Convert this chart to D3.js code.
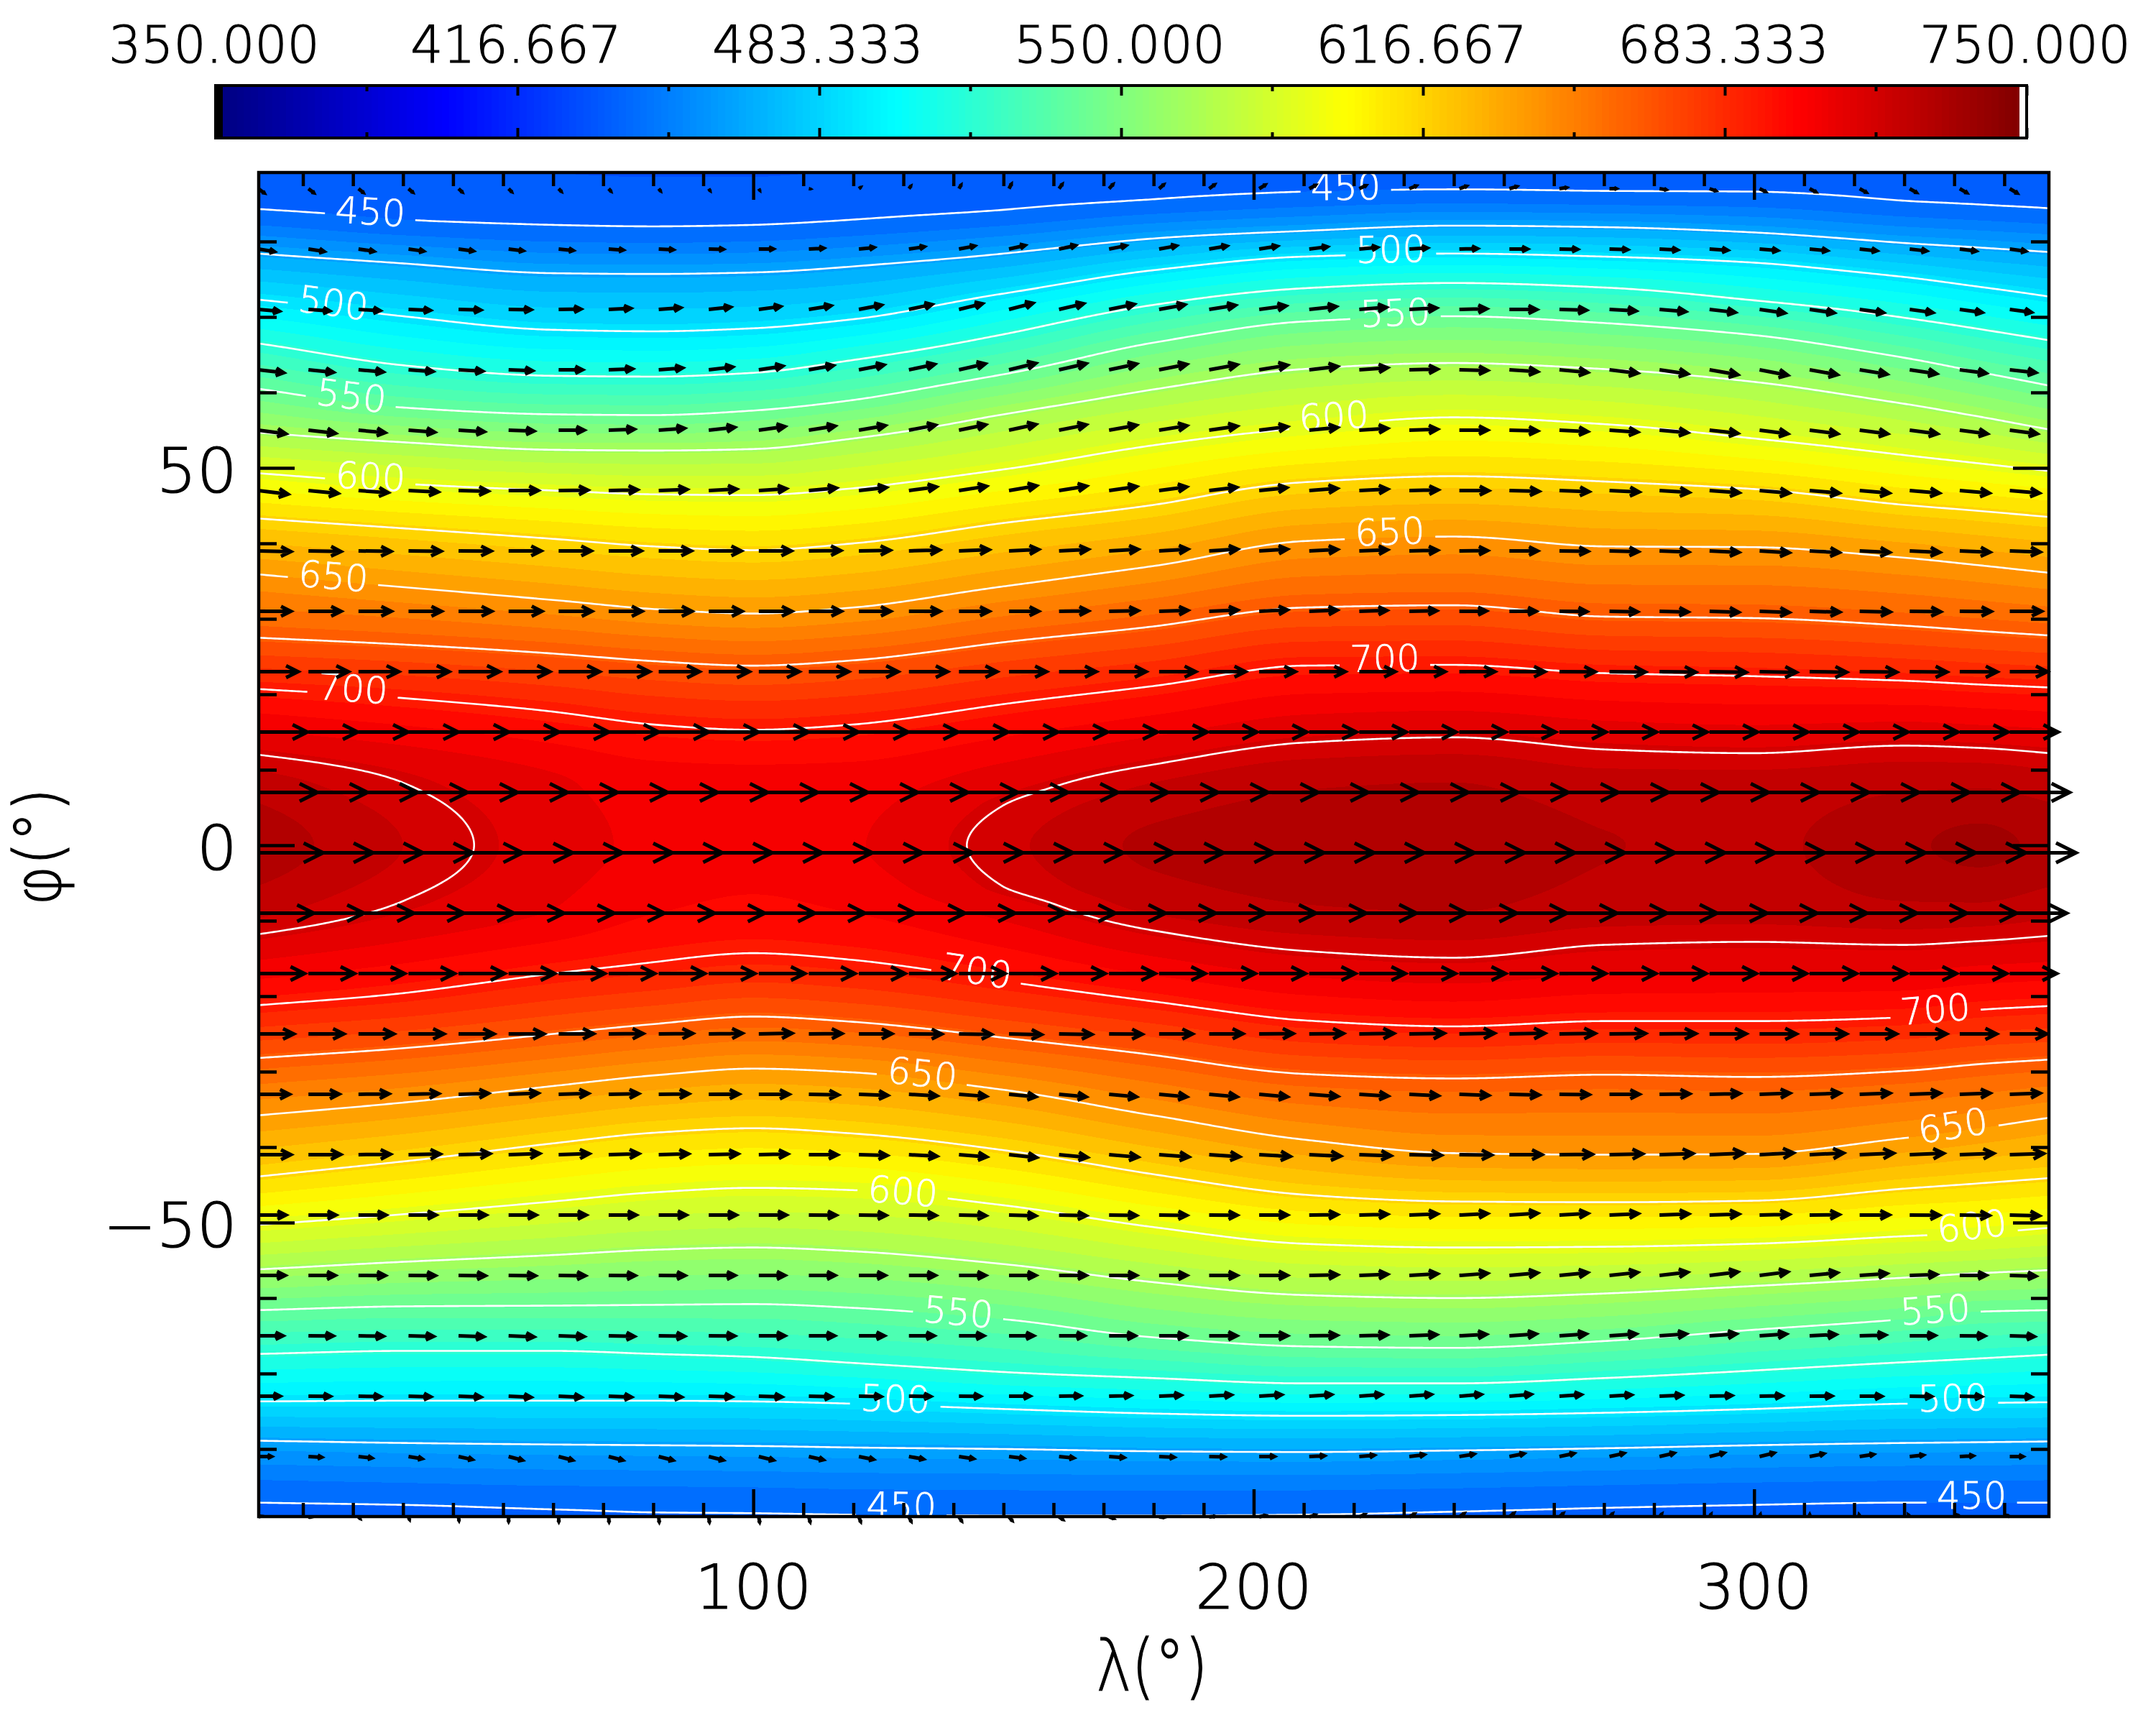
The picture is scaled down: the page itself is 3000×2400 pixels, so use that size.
<!DOCTYPE html>
<html><head><meta charset="utf-8">
<script src="https://cdn.jsdelivr.net/npm/d3@7"></script>
<style>html,body{margin:0;padding:0;background:#fff}svg{display:block}
text{font-family:"DejaVu Sans";font-weight:200;fill:#000;stroke:#000;stroke-width:1.2px}</style></head>
<body><div id="chart"></div>
<script>
// ---------- data ----------
const colorbarMin = 350, colorbarMax = 750, fillLevelCount = 60;
const colorbarLabels = ["350.000","416.667","483.333","550.000","616.667","683.333","750.000"];
const xMajorTicks = [100,200,300];
const yMajorTicks = [50,0,-50];
const contourLevels = [450,475,500,525,550,575,600,625,650,675,700,725];

// longitudes at which isotherm latitudes were read
const sampleLons = [1,30,60,80,100,120,150,180,210,240,270,300,330,345,359];
// temperature at the pole edges, at lat +-8 and on the equator
const tempNorthEdge = [445,444,442.5,442,442,443,444.5,446,447,447.5,447.5,447,446,445.5,445];
const tempSouthEdge = [447,447,448,449,449,449,449,449,449,448.5,448,447.5,447,447,447];
const temp8N = [733.5,null,718,713.5,712.5,713.5,721.5,730.5,736,737,733,733,735.5,736,733.5];
const temp8S = [733,null,717,711,709,711,720.5,732,736.5,737.5,734,733.5,736,736,733];
const tempEquator = [741,730,720,715,712.5,716,728,738,741,742,737,735.5,742,745,741.5];
// latitude of each isotherm, northern hemisphere
const iso450N = [84.3,82.9,82.2,82.0,82.2,82.9,84.2,85.6,86.6,86.9,86.7,86.6,85.4,84.9,84.4];
const iso475N = [78.4,77.1,75.8,75.7,75.9,76.7,78.4,80.4,81.4,82.1,81.9,81.2,79.8,79.2,78.6];
const iso500N = [72.3,70.1,68.3,68.1,68.5,69.7,73.1,76.2,78.0,78.4,78.0,77.2,75.3,74.0,72.7];
const iso525N = [66.5,63.6,62.2,62.1,62.6,64.3,67.7,71.6,73.8,74.5,73.9,72.2,69.9,68.4,66.9];
const iso550N = [60.5,58.0,57.1,57.0,57.6,59.0,62.4,66.6,69.4,70.1,69.2,67.6,64.6,62.7,60.9];
const iso575N = [54.7,53.4,52.4,52.3,52.5,53.9,57.1,60.4,63.1,63.9,63.1,61.4,58.5,56.8,55.1];
const iso600N = [49.3,47.9,47.0,46.5,46.4,47.3,49.8,53.0,55.3,56.7,55.8,53.9,51.7,50.6,49.6];
const iso625N = [43.3,42.0,40.6,39.6,39.1,40.0,42.7,45.1,48.1,48.9,48.2,47.2,45.1,44.3,43.5];
const iso650N = [35.9,34.2,32.5,31.3,30.7,31.5,34.3,37.0,40.3,40.9,39.6,39.5,38.1,37.1,36.1];
const iso675N = [27.5,26.6,25.4,24.4,23.8,24.5,26.9,29.0,31.5,31.8,30.3,30.1,29.1,28.4,27.8];
const iso700N = [20.7,19.5,17.7,16.0,15.3,16.0,18.7,21.1,23.8,23.9,22.8,22.4,21.8,21.3,20.9];
const iso725N = [12.0,8.3,null,null,null,null,5.3,10.7,13.6,14.3,12.7,12.2,13.2,12.9,12.2];
// latitude of each isotherm, southern hemisphere
const iso450S = [-87.1,-87.4,-88.0,-88.4,-88.5,-88.7,-88.8,-88.8,-88.7,-88.3,-87.8,-87.4,-87.1,-87.1,-87.1];
const iso475S = [-78.9,-79.2,-79.4,-79.5,-79.6,-79.8,-80.0,-80.3,-80.4,-80.2,-79.9,-79.5,-79.2,-79.1,-79.0];
const iso500S = [-73.7,-73.6,-73.6,-73.6,-73.7,-74.0,-74.7,-75.3,-75.6,-75.5,-75.2,-74.7,-74.0,-73.9,-73.8];
const iso525S = [-67.4,-67.0,-67.0,-67.4,-67.8,-68.6,-69.8,-70.6,-71.3,-71.3,-70.6,-69.6,-68.5,-68.0,-67.5];
const iso550S = [-61.6,-61.1,-61.0,-60.9,-60.8,-61.3,-62.8,-65.2,-66.4,-66.6,-65.7,-64.2,-62.8,-61.8,-61.6];
const iso575S = [-56.2,-55.2,-54.3,-53.6,-53.3,-53.8,-55.5,-57.9,-59.6,-60.0,-59.4,-58.4,-57.3,-56.7,-56.3];
const iso600S = [-50.3,-48.9,-47.2,-46.0,-45.4,-45.7,-47.7,-50.6,-52.8,-53.3,-53.2,-52.8,-51.8,-51.4,-50.7];
const iso625S = [-43.9,-41.9,-39.5,-38.1,-37.5,-38.2,-40.4,-43.6,-46.3,-47.2,-47.3,-47.1,-45.5,-44.8,-44.1];
const iso650S = [-35.8,-34.1,-31.9,-30.5,-29.6,-30.1,-32.4,-35.8,-39.0,-40.8,-41.0,-40.9,-38.8,-37.5,-36.1];
const iso675S = [-28.2,-26.9,-25.0,-23.7,-22.7,-23.4,-25.5,-27.8,-30.3,-30.9,-30.4,-30.7,-29.9,-29.0,-28.4];
const iso700S = [-21.2,-19.6,-17.0,-15.5,-14.3,-15.2,-18.0,-20.7,-23.2,-24.0,-23.3,-23.3,-22.8,-21.8,-21.3];
const iso725S = [-11.8,-7.4,null,null,null,null,-5.5,-11.3,-14.0,-14.9,-13.2,-12.8,-13.2,-12.7,-12.0];

// contour annotations: level, lon, lat, rotation along the line
const contourLabels = [
 [450,23.5,84.0,3.6],[450,218.4,87.3,-1],[500,16.1,71.9,7.6],[500,227.4,79.0,-1],
 [550,19.7,59.6,7],[550,228.3,70.6,-2.3],[600,23.5,48.9,3],[600,216,56.9,-3.5],
 [650,16.1,35.7,5],[650,227.2,41.6,-2.3],[700,20,20.8,4],[700,226.2,24.8,-1],
 [700,144.7,-16.6,8.6],[650,133.8,-30.2,6.3],[600,129.9,-45.8,4.8],[550,141,-61.8,5.3],
 [500,128.4,-73.3,1.8],[450,129.6,-87.5,1],[700,336.2,-21.7,-4.6],[650,339.7,-37.1,-8.6],
 [600,343.5,-50.4,-6],[550,336.2,-61.5,-3.6],[500,339.7,-73.2,-1.3],[450,343.5,-86.2,0]
];

// wind vectors: arrow rows (lat), arrow columns (lon), and values read at windKnots
const arrowLats = [87,79,71,63,55,47,39,31,23,15,7,-1,-9,-17,-25,-33,-41,-49,-57,-65,-73,-81,-89];
const arrowLons = d3.range(0,36).map(k => 1.1 + 10*k);
const windKnots = [1,50,100,150,200,250,300,351];
const windU = [
 [8,4,1,3,8,10,8,10],[22,20,20,22,25,25,25,22],[29,31,30,33,37,38,35,30],[35,33,33,37,39,39,39,36],
 [38,35,36,37,39,39,39,38],[41,41,38,38,38,41,41,41],[45,45,45,41,39,39,41,42],[45,46,46,41,39,37,41,44],
 [55,57,56,52,50,49,51,52],[68,70,69,68,66,64,67,67],[82,82,82,82,82,82,82,83],[90,89,88,89,90,91,91,92],
 [77,77,78,78,79,80,80,79],[64,64,64,64,64,64,65,65],[49,49,46,45,47,49,51,51],[43,41,42,37,39,41,42,42],
 [45,43,40,38,43,45,47,47],[38,38,38,37,39,39,41,41],[37,37,36,37,39,39,39,36],[34,35,36,34,39,37,37,34],
 [30,31,32,29,31,30,31,30],[18,19,20,20,21,20,20,18],[3,0,1,4,8,6,1,-3]
];
// northward component (positive = up)
const windV = [
 [-6,-4,-2,6,5,3,-4,-6],[-3.5,-2.5,0,5,4,0,-2,-3],[-2.5,-.5,4,8.7,5,0,-5,-4],[-4,-1.5,5,9,6.6,-2.5,-7.6,-4],
 [-5,-1.5,5,8,5,-1,-5,-5],[-5,0,2.5,6.6,4,-1,-3.5,-3.5],[-1,0,0,2,2.5,0,-2.5,-1.5],[0,0,0,0,2,0,-1.5,0],
 [0,0,0,0,0,0,-1,0],[0,0,0,0,0,0,0,0],[0,0,0,0,0,0,0,0],[0,0,0,0,0,0,0,0],
 [0,0,0,0,0,0,0,0],[0,0,0,0,0,0,0,0],[0,0,1,-1,.5,1,0,0],[0,1.5,0,-3.5,-3.5,-1,1.5,1.5],
 [0,1.5,1,-4,-2.5,0,2.5,1.5],[0,0,0,-1,0,2.5,1,-1],[0,-.5,0,0,0,3.5,5,-1],[0,-1.5,0,0,0,2.5,2.5,-1],
 [0,-1.5,-1,0,2,2.5,.5,-1],[0,-5,-5,-2.5,0,4,5,0],[1,-6,-7,-5,2,5,3,2]
];

// ---------- layout & scales ----------
const W = 3000, H = 2400;
const plot = {left:360, right:2851, top:240, bottom:2110};
const bar = {left:300, right:2820, top:119, bottom:192};
const xScale = d3.scaleLinear().domain([0,360]).range([351.9,2858.5]);
const yScale = d3.scaleLinear().domain([90,-90]).range([231,2121]);
const barScale = d3.scaleLinear().domain([colorbarMin,colorbarMax]).range([bar.left,bar.right]);
const windScale = d3.scaleLinear().domain([0,100]).range([0,100]);

function jet(f){
  const c = v => Math.round(255*Math.max(0,Math.min(1,v)));
  return d3.rgb(c(Math.min(4*f-1.5,-4*f+4.5)), c(Math.min(4*f-.5,-4*f+3.5)), c(Math.min(4*f+.5,-4*f+2.5))).formatHex();
}
const levelStep = (colorbarMax-colorbarMin)/fillLevelCount;
const fillLevels = d3.range(0,fillLevelCount).map(k => colorbarMin + k*levelStep);
const fillColor = L => jet((L - levelStep - colorbarMin)/(colorbarMax-colorbarMin));

// monotone cubic through read values, used only to draw a smooth field
function pchip(xs, ys){
  const n = xs.length, h=[], d=[], m=new Array(n);
  for(let i=0;i<n-1;i++){h[i]=xs[i+1]-xs[i]; d[i]=(ys[i+1]-ys[i])/h[i];}
  m[0]=d[0]; m[n-1]=d[n-2];
  for(let i=1;i<n-1;i++){
    if(d[i-1]*d[i]<=0) m[i]=0;
    else { const w1=2*h[i]+h[i-1], w2=h[i]+2*h[i-1]; m[i]=(w1+w2)/(w1/d[i-1]+w2/d[i]); }
  }
  return x=>{
    if(x<=xs[0]) return ys[0];
    if(x>=xs[n-1]) return ys[n-1];
    let i=d3.bisectRight(xs,x)-1; if(i>=n-1) i=n-2;
    const t=(x-xs[i])/h[i], t2=t*t, t3=t2*t;
    return (2*t3-3*t2+1)*ys[i]+(t3-2*t2+t)*h[i]*m[i]+(-2*t3+3*t2)*ys[i+1]+(t3-t2)*h[i]*m[i+1];
  };
}
const isoRows = [
 [450,iso450N],[475,iso475N],[500,iso500N],[525,iso525N],[550,iso550N],[575,iso575N],[600,iso600N],[625,iso625N],[650,iso650N],[675,iso675N],[700,iso700N],[725,iso725N],
 [450,iso450S],[475,iso475S],[500,iso500S],[525,iso525S],[550,iso550S],[575,iso575S],[600,iso600S],[625,iso625S],[650,iso650S],[675,iso675S],[700,iso700S],[725,iso725S]
];
const columnProfiles = sampleLons.map((lon,c)=>{
  let nodes = [[90,tempNorthEdge[c]],[-90,tempSouthEdge[c]],[0,tempEquator[c]]];
  if(temp8N[c]!=null) nodes.push([8,temp8N[c]]);
  if(temp8S[c]!=null) nodes.push([-8,temp8S[c]]);
  isoRows.forEach(([L,row])=>{ if(row[c]!=null) nodes.push([row[c],L]); });
  nodes.sort((a,b)=>a[0]-b[0]);
  return pchip(nodes.map(n=>n[0]),nodes.map(n=>n[1]));
});

// temperature grid in screen cells, padded past the frame so that contour rings close outside the clip
const step = 3, pad = 2;
const nx = Math.ceil((plot.right-plot.left)/step)+2*pad, ny = Math.ceil((plot.bottom-plot.top)/step)+2*pad;
const x0 = plot.left-pad*step, y0 = plot.top-pad*step;
const grid = new Float64Array(nx*ny);
for(let j=0;j<ny;j++){
  const lat = yScale.invert(y0+(j+.5)*step);
  const across = pchip(sampleLons, columnProfiles.map(p=>p(lat)));
  for(let i=0;i<nx;i++) grid[j*nx+i]=across(xScale.invert(x0+(i+.5)*step));
}
const contourGen = d3.contours().size([nx,ny]);
const geo = d3.geoPath(d3.geoIdentity().scale(step).translate([x0,y0]));

// ---------- draw ----------
const svg = d3.select("#chart").append("svg").attr("width",W).attr("height",H).attr("viewBox",`0 0 ${W} ${H}`);
const defs = svg.append("defs");
defs.append("clipPath").attr("id","plotClip").append("rect")
  .attr("x",plot.left).attr("y",plot.top).attr("width",plot.right-plot.left).attr("height",plot.bottom-plot.top);
const mask = defs.append("mask").attr("id","labelGaps").attr("maskUnits","userSpaceOnUse")
  .attr("x",0).attr("y",0).attr("width",W).attr("height",H);
mask.append("rect").attr("width",W).attr("height",H).attr("fill","#fff");
mask.selectAll("rect.gap").data(contourLabels).join("rect").attr("class","gap")
  .attr("x",-63).attr("y",-24).attr("width",126).attr("height",48).attr("fill","#000")
  .attr("transform",d=>`translate(${xScale(d[1])},${yScale(d[2])}) rotate(${d[3]})`);

// field
const field = svg.append("g").attr("clip-path","url(#plotClip)");
field.append("rect").attr("x",plot.left).attr("y",plot.top).attr("width",plot.right-plot.left).attr("height",plot.bottom-plot.top)
  .attr("fill",fillColor(fillLevels[12]));
field.selectAll("path").data(fillLevels.filter(L=>L>=430)).join("path")
  .attr("d",L=>geo(contourGen.contour(grid,L))).attr("fill",L=>fillColor(L)).attr("shape-rendering","crispEdges");

// white isotherms
const lines = svg.append("g").attr("clip-path","url(#plotClip)").append("g").attr("mask","url(#labelGaps)");
lines.selectAll("path").data(contourLevels).join("path")
  .attr("d",L=>geo(contourGen.contour(grid,L))).attr("fill","none").attr("stroke","#fff").attr("stroke-width",2.6);

const labelGroup = svg.append("g").attr("clip-path","url(#plotClip)");
labelGroup.selectAll("text").data(contourLabels).join("text")
  .attr("transform",d=>`translate(${xScale(d[1])},${yScale(d[2])}) rotate(${d[3]})`)
  .attr("text-anchor","middle").attr("dy","0.36em").style("fill","#fff").style("stroke","#fff").style("stroke-width","0.8px")
  .attr("font-size",51).text(d=>d[0]);

// wind arrows
const arrowGroup = svg.append("g").attr("fill","none").attr("stroke","#000").attr("stroke-width",5).attr("stroke-miterlimit",8);
arrowLats.forEach((lat,r)=>{
  const uAt = d3.scaleLinear().domain(windKnots).range(windU[r]);
  const vAt = d3.scaleLinear().domain(windKnots).range(windV[r]);
  arrowLons.forEach(lon=>{
    const tx=xScale(lon), ty=yScale(lat);
    const dx=windScale(uAt(lon)), dy=-windScale(vAt(lon));
    const len=Math.hypot(dx,dy)||1, ux=dx/len, uy=dy/len;
    const tipx=tx+dx, tipy=ty+dy, hl=.3*len, hw=.15*len;
    const bx=tipx-ux*hl, by=tipy-uy*hl;
    arrowGroup.append("path").attr("d",
      `M${tx},${ty}L${tipx},${tipy}`+
      `M${bx-uy*hw},${by+ux*hw}L${tipx},${tipy}L${bx+uy*hw},${by-ux*hw}`);
  });
});

// frame and ticks
function styleAxis(g,w){ g.select(".domain").remove(); g.selectAll("line").attr("stroke","#000").attr("stroke-width",w); g.selectAll("text").remove(); }
const xMinor = d3.range(10,360,10).filter(v=>v%100!==0);
const yMinor = d3.range(-80,90,10).filter(v=>v%50!==0);
const axes = svg.append("g");
const ax=(gen,tr)=>axes.append("g").attr("transform",tr).call(gen).call(g=>styleAxis(g,4.5));
ax(d3.axisBottom(xScale).tickValues(xMinor).tickSize(-19),`translate(0,${plot.bottom})`);
ax(d3.axisBottom(xScale).tickValues(xMajorTicks).tickSize(-38),`translate(0,${plot.bottom})`);
ax(d3.axisTop(xScale).tickValues(xMinor).tickSize(-19),`translate(0,${plot.top})`);
ax(d3.axisTop(xScale).tickValues(xMajorTicks).tickSize(-38),`translate(0,${plot.top})`);
ax(d3.axisLeft(yScale).tickValues(yMinor).tickSize(-25),`translate(${plot.left},0)`);
ax(d3.axisLeft(yScale).tickValues(yMajorTicks).tickSize(-50),`translate(${plot.left},0)`);
ax(d3.axisRight(yScale).tickValues(yMinor).tickSize(-25),`translate(${plot.right},0)`);
ax(d3.axisRight(yScale).tickValues(yMajorTicks).tickSize(-50),`translate(${plot.right},0)`);
svg.append("rect").attr("x",plot.left).attr("y",plot.top).attr("width",plot.right-plot.left).attr("height",plot.bottom-plot.top)
  .attr("fill","none").attr("stroke","#000").attr("stroke-width",4.5);

// axis numbers
svg.append("g").selectAll("text").data(xMajorTicks).join("text")
  .attr("transform",d=>`translate(${xScale(d)},2238)`).attr("text-anchor","middle").attr("font-size",85).text(d=>d);
svg.append("g").selectAll("text").data(yMajorTicks).join("text")
  .attr("transform",d=>`translate(330,${yScale(d)+34}) scale(1.04,1)`).attr("text-anchor","end").attr("font-size",85)
  .text(d=>d<0?"\u2212"+(-d):d);
// axis titles
svg.append("text").attr("x",1525).attr("y",2352).attr("font-size",100).attr("textLength",156).attr("lengthAdjust","spacingAndGlyphs").text("\u03bb(\u00b0)");
svg.append("text").attr("transform","translate(84,1260) rotate(-90)").attr("font-size",90).attr("textLength",164).attr("lengthAdjust","spacingAndGlyphs").text("\u03c6(\u00b0)");

// colour bar
const cellW=(bar.right-bar.left)/256;
svg.append("g").attr("shape-rendering","crispEdges").selectAll("rect").data(d3.range(256)).join("rect")
  .attr("x",i=>bar.left+i*cellW).attr("y",bar.top).attr("width",cellW+.5).attr("height",bar.bottom-bar.top)
  .attr("fill",i=>i===0?"#000":i===255?"#fff":jet(i/255));
const barMajor=d3.range(0,7).map(k=>colorbarMin+k*(colorbarMax-colorbarMin)/6);
const barMinor=d3.range(0,6).map(k=>colorbarMin+(k+.5)*(colorbarMax-colorbarMin)/6);
const bax=(gen,tr)=>svg.append("g").attr("transform",tr).call(gen).call(g=>styleAxis(g,4));
bax(d3.axisTop(barScale).tickValues(barMajor).tickSize(-14),`translate(0,${bar.top})`);
bax(d3.axisTop(barScale).tickValues(barMinor).tickSize(-8),`translate(0,${bar.top})`);
bax(d3.axisBottom(barScale).tickValues(barMajor).tickSize(-14),`translate(0,${bar.bottom})`);
bax(d3.axisBottom(barScale).tickValues(barMinor).tickSize(-8),`translate(0,${bar.bottom})`);
svg.append("rect").attr("x",bar.left).attr("y",bar.top).attr("width",bar.right-bar.left).attr("height",bar.bottom-bar.top)
  .attr("fill","none").attr("stroke","#000").attr("stroke-width",4);
svg.append("g").selectAll("text").data(colorbarLabels).join("text")
  .attr("x",(d,i)=>barScale(barMajor[i])-2).attr("y",87).attr("text-anchor","middle").attr("font-size",71).text(d=>d);
</script></body></html>
